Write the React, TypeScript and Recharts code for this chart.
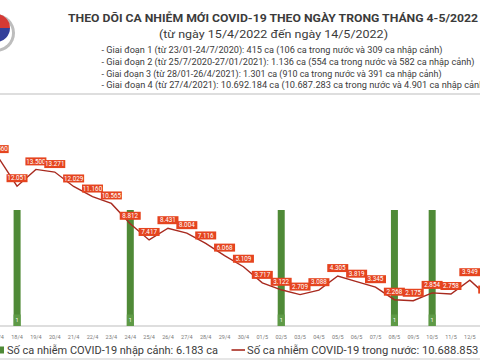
import React from "react"
import { ComposedChart, Bar, Line, XAxis, YAxis, CartesianGrid, LabelList } from "recharts"

const days = [
  "15/4", "16/4", "17/4", "18/4", "19/4", "20/4", "21/4", "22/4", "23/4", "24/4",
  "25/4", "26/4", "27/4", "28/4", "29/4", "30/4", "01/5", "02/5", "03/5", "04/5",
  "05/5", "06/5", "07/5", "08/5", "09/5", "10/5", "11/5", "12/5", "13/5", "14/5",
]

// ca nhap canh theo ngay
const imported = [0, 0, 0, 1, 0, 0, 0, 0, 0, 1, 0, 0, 0, 0, 0, 0, 0, 1, 0, 0, 0, 0, 0, 1, 0, 1, 0, 0, 0, 0]

// ca trong nuoc theo ngay
const domestic = [
  17800, 16000, 14560, 12051, 13500, 13271, 12029, 11160, 10565, 8812,
  7417, 8431, 8004, 7116, 6068, 5109, 3717, 3122, 2709, 3088,
  4305, 3819, 3345, 2268, 2175, 2854, 2758, 3949, 2452, 2500,
]

const lineTicks = [0, 2000, 4000, 6000, 8000, 10000, 12000, 14000, 16000, 18000, 20000]

const infoLines = [
  { text: "- Giai đoạn 1 (từ 23/01-24/7/2020): 415 ca (106 ca trong nước và 309 ca nhập cảnh)", len: 341 },
  { text: "- Giai đoạn 2 (từ 25/7/2020-27/01/2021): 1.136 ca (554 ca trong nước và 582 ca nhập cảnh)", len: 373 },
  { text: "- Giai đoạn 3 (từ 28/01-26/4/2021): 1.301 ca (910 ca trong nước và 391 ca nhập cảnh)", len: 340 },
  { text: "- Giai đoạn 4 (từ 27/4/2021): 10.692.184 ca (10.687.283 ca trong nước và 4.901 ca nhập cảnh)", len: 386 },
]

const data = days.map((day, i) => ({ day, imported: imported[i], domestic: domestic[i] }))

const GREEN = "#4f8a37"
const RED_LINE = "#a82a1f"
const RED_BOX = "#e5441f"
const TEXT = "#3b3b3b"
const FONT = "Roboto, 'Noto Sans', sans-serif"

const fmt = (v: number) => v.toLocaleString("de-DE")

function LineLabel(props: any) {
  const { x, y, value } = props
  if (x == null || y == null) return null
  const w = 21
  const h = 8
  return (
    <g>
      <rect x={x - w / 2} y={y - 4 - h} width={w} height={h} fill={RED_BOX} />
      <text x={x} y={y - 4 - h / 2} dy="0.35em" textAnchor="middle" fontSize={6.3} fill="#fff" fontFamily={FONT}>
        {fmt(value)}
      </text>
    </g>
  )
}

function BarLabel(props: any) {
  const { x, y, width, height, value } = props
  if (x == null) return null
  const bottom = y + height
  const h = 11.5
  return (
    <g>
      <rect x={x} y={bottom - h} width={width} height={h} fill={value ? "#5e9a46" : GREEN} />
      <text x={x + width / 2} y={bottom - h / 2} dy="0.35em" textAnchor="middle" fontSize={5.5} fill="#fff" fontFamily={FONT}>
        {value ? String(value) : "-"}
      </text>
    </g>
  )
}

export default function App() {
  return (
    <div style={{ position: "fixed", left: 0, top: 0, width: 480, height: 360, overflow: "hidden", background: "#fff" }}>
      <ComposedChart
        width={600}
        height={360}
        data={data}
        margin={{ top: 94, right: 23, bottom: 22, left: 11 }}
        style={{ position: "absolute", left: -60, top: 0 }}
      >
        <CartesianGrid vertical={false} stroke="#bdbdbd" strokeWidth={1} />
        <XAxis
          dataKey="day"
          height={12}
          axisLine={false}
          tickLine={false}
          interval={0}
          tickMargin={3}
          tick={{ fontSize: 5.5, fill: "#7a7a7a", fontFamily: FONT }}
        />
        <YAxis width={0} tick={false} axisLine={false} tickLine={false} domain={[0, 20000]} ticks={lineTicks} />
        <YAxis yAxisId="bar" orientation="right" width={0} tick={false} axisLine={false} tickLine={false} domain={[0, 2]} />
        <Bar yAxisId="bar" dataKey="imported" fill={GREEN} barSize={7} isAnimationActive={false}>
          <LabelList dataKey="imported" content={BarLabel} />
        </Bar>
        <Line
          dataKey="domestic"
          stroke={RED_LINE}
          strokeWidth={1.4}
          dot={false}
          type="linear"
          isAnimationActive={false}
        >
          <LabelList dataKey="domestic" content={LineLabel} />
        </Line>
      </ComposedChart>

      <svg width={480} height={360} style={{ position: "absolute", left: 0, top: 0, pointerEvents: "none" }}>
        {/* logo */}
        <circle cx={-4} cy={33} r={19} fill="#bdbdbd" />
        <circle cx={-4} cy={33} r={16} fill="#fff" />
        <path d="M -18 28 A 14 14 0 0 1 10 28 Z" fill="#d63a35" />
        <path d="M -18 28 L 10 28 A 14 14 0 1 1 -18 28 Z" fill="#34409a" />

        <text x={68} y={21.5} fontSize={11.5} fontWeight="bold" fill={TEXT} fontFamily={FONT} textLength={410} lengthAdjust="spacingAndGlyphs">
          THEO DÕI CA NHIỄM MỚI COVID-19 THEO NGÀY TRONG THÁNG 4-5/2022
        </text>
        <text x={159} y={37.5} fontSize={11.5} fill={TEXT} fontFamily={FONT} textLength={229} lengthAdjust="spacingAndGlyphs">
          (từ ngày 15/4/2022 đến ngày 14/5/2022)
        </text>
        {infoLines.map((l, i) => (
          <text
            key={i}
            x={101.5}
            y={53 + i * 11.8}
            fontSize={8.4}
            fill={TEXT}
            fontFamily={FONT}
            textLength={l.len}
            lengthAdjust="spacingAndGlyphs"
          >
            {l.text}
          </text>
        ))}

        {/* legend */}
        <rect x={-2} y={346.5} width={6} height={7} fill={GREEN} />
        <text x={7} y={354} fontSize={11.5} fill={TEXT} fontFamily={FONT} textLength={211} lengthAdjust="spacingAndGlyphs">
          Số ca nhiễm COVID-19 nhập cảnh: 6.183 ca
        </text>
        <line x1={231.5} x2={245} y1={350} y2={350} stroke={RED_LINE} strokeWidth={1.6} />
        <text x={247} y={354} fontSize={11.5} fill={TEXT} fontFamily={FONT} textLength={246} lengthAdjust="spacingAndGlyphs">
          Số ca nhiễm COVID-19 trong nước: 10.688.853 ca
        </text>
        <rect x={0} y={358} width={480} height={2} fill="#e6e6e6" />
      </svg>
    </div>
  )
}
